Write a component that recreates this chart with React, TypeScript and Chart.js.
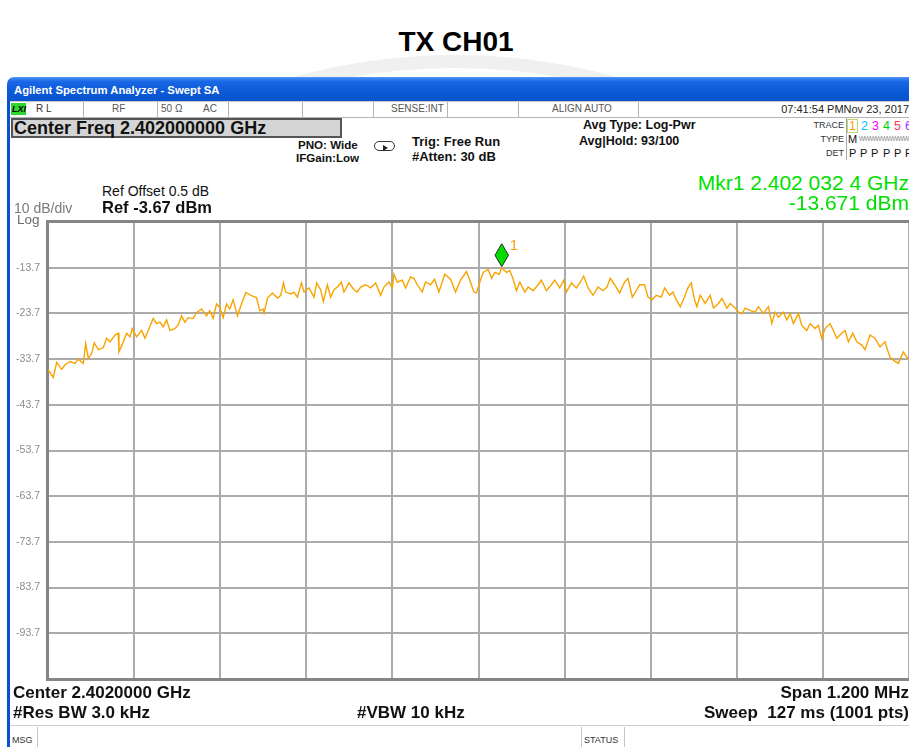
import React, { useEffect, useRef } from "react";
import { Chart, registerables } from "chart.js";

Chart.register(...registerables);

// ---------------- data ----------------
const CHART_TITLE = "TX CH01";
const SPAN_KHZ = 1200; // 2.4014 .. 2.4026 GHz, shown as offset from centre (kHz)
const REF_LEVEL_DBM = -3.67;
const DB_PER_DIV = 10;
const NUM_DIVS = 10;
const Y_TICK_LABELS = ["-13.7", "-23.7", "-33.7", "-43.7", "-53.7", "-63.7", "-73.7", "-83.7", "-93.7"];

const FREQ_OFFSET_KHZ = [
  -600, -592.6, -587.9, -580.9, -576.3, -569.3, -562.4, -557.8, -550.8, -547.5,
  -543.8, -539.1, -535.5, -529.9, -523, -518.3, -513.6, -506.7, -502.1, -501.1,
  -495.1, -490.4, -485.8, -482.6, -476.5, -469.5, -464.9, -460.3, -453.4, -448.6,
  -444, -439.4, -434.7, -430.1, -423.2, -418.6, -413.8, -409.2, -404.6, -397.7,
  -393, -386, -379.1, -374.5, -369.9, -365.1, -360.5, -355.9, -351.2, -346.6,
  -342, -335.9, -330.3, -324.3, -316.4, -309.4, -304.8, -300.3,
  -298.9, -294.1, -287.2, -280.2, -275.6, -271.9, -268.7, -261.7, -257.1, -252.4,
  -246.8, -243.2, -236.2, -229.3, -225.5, -219.9, -216.2, -210.6, -206, -201.4,
  -196.7, -191.1, -187.5, -180.5, -173.6, -168.9, -164.3, -157.3, -150.3, -143.4,
  -136.4, -131.8, -124.9, -120.1, -117.9, -113.2, -106.2, -101.6, -94.7, -90,
  -85.4, -78.4, -73.8, -66.8, -61.2, -55.2, -46.9, -39, -32, -25.1,
  -16.7, -12.1, -6.5,
  -2.8, 1.9, 6.5, 13.5, 18.1, 22.7, 28.8, 32.4, 39, 43.6,
  48.3, 52.9, 57.5, 64.5, 69.2, 76.1, 83.1, 87.7, 94.7, 101.6,
  106.2, 113.2, 118.7, 122.5, 129.5, 136.4, 142, 146.6, 152.7, 159.7,
  166.6, 173.6, 179.1, 183.7, 189.7, 196.7, 203.7, 208.3, 214.4, 220,
  224.6, 231.5, 236.2, 241.8, 247.8, 254.7, 259.3, 266.3, 271, 275.6,
  281.2, 287.1, 291.8, 296.5, 301.1,
  304.4, 309, 316, 322.9, 327.5, 334.5, 339.2, 346.1, 350.8, 357.7,
  362.3, 367, 371.7, 378.6, 385.6, 390.2, 397.1, 404.1, 408.8, 413.4,
  418, 425, 429.7, 434.3, 438.9, 445.9, 450.6, 457.5, 462.1, 469.1,
  473.7, 478.4, 483, 490, 494.6, 499.3, 506.3, 510.9, 515.5, 521.6,
  527.2, 534.2, 538.7, 545.7, 552.6, 559.6, 566.5, 573.5, 579.1, 585.1,
  592, 599,
];

const LEVEL_DBM = [
  -36.0, -37.7, -34.4, -35.9, -34.9, -34.2, -34.6, -33.7, -34.6, -30.3,
  -33.5, -32.4, -30.1, -31.6, -31.2, -29.1, -29.9, -28.4, -28.0, -32.1,
  -29.9, -28.0, -28.8, -27.0, -28.8, -27.4, -29.1, -27.4, -24.8, -25.9,
  -25.6, -26.6, -25.1, -27.4, -27.0, -26.2, -24.2, -25.6, -24.6, -24.8,
  -23.5, -22.7, -24.2, -23.1, -24.8, -21.6, -22.4, -24.6, -21.6, -22.7,
  -20.7, -24.2, -21.6, -19.1, -19.8, -20.2, -23.1, -22.7,
  -23.6, -20.3, -19.2, -20.3, -19.7, -17.0, -19.0, -19.4, -19.0, -20.1,
  -17.0, -19.0, -18.1, -20.1, -17.0, -18.5, -21.1, -17.4, -20.1, -18.5,
  -17.9, -16.8, -19.0, -17.0, -18.5, -19.0, -17.9, -17.4, -18.1, -17.0,
  -19.7, -17.9, -16.8, -18.1, -15.1, -16.8, -16.4, -18.1, -15.7, -16.0,
  -17.4, -19.0, -16.8, -17.4, -16.2, -19.0, -15.1, -16.2, -19.0, -16.4,
  -14.5, -16.4, -19.0,
  -19.2, -16.8, -14.7, -14.0, -16.0, -14.7, -15.1, -13.67, -14.7, -14.3,
  -16.2, -18.7, -16.8, -19.0, -17.9, -18.7, -17.4, -16.4, -18.7, -17.4,
  -16.4, -18.1, -16.4, -19.0, -17.0, -18.1, -16.8, -15.5, -18.1, -19.7,
  -17.9, -18.7, -17.9, -16.0, -17.4, -19.2, -16.8, -16.0, -20.1, -18.7,
  -17.4, -17.4, -20.1, -20.7, -19.7, -20.1, -18.1, -19.7, -19.0, -20.7,
  -22.2, -20.1, -18.1, -17.0, -20.7,
  -22.2, -19.7, -21.5, -19.7, -22.5, -21.5, -20.4, -22.5, -21.5, -22.5,
  -23.4, -23.7, -22.5, -23.0, -23.4, -22.2, -23.7, -22.2, -25.9, -23.4,
  -24.5, -23.4, -25.1, -23.7, -25.9, -23.7, -26.3, -27.4, -25.9, -27.0,
  -26.3, -29.1, -27.0, -25.9, -27.4, -29.1, -28.0, -27.4, -29.9, -28.0,
  -29.9, -30.6, -31.6, -28.4, -29.1, -31.0, -29.9, -33.3, -34.0, -34.6,
  -32.1, -33.7,
];

const MARKER_LABEL = "1";
const MARKER_FREQ_KHZ = 32.4;
const MARKER_LEVEL_DBM = -13.671;

// ---------------- helpers ----------------
const W = 909;
const FONT = '"Liberation Sans", Arial, sans-serif';

type TP = {
  x?: number;
  r?: number;
  y: number;
  size: number;
  bold?: boolean;
  italic?: boolean;
  color?: string;
  ls?: number;
  children: React.ReactNode;
};

function T({ x, r, y, size, bold, italic, color = "#000", ls, children }: TP) {
  const style: React.CSSProperties = {
    position: "absolute",
    top: y - 0.49 * size,
    fontSize: size,
    lineHeight: 1,
    fontWeight: bold ? 700 : 400,
    fontStyle: italic ? "italic" : "normal",
    color,
    whiteSpace: "pre",
    letterSpacing: ls,
    zIndex: 3,
  };
  if (r !== undefined) style.right = W - r;
  else style.left = x;
  return <div style={style}>{children}</div>;
}

function Box(props: { l: number; t: number; w: number; h: number; s?: React.CSSProperties }) {
  return (
    <div
      style={{
        position: "absolute",
        left: props.l,
        top: props.t,
        width: props.w,
        height: props.h,
        boxSizing: "border-box",
        zIndex: 2,
        ...props.s,
      }}
    />
  );
}

const SPECTRUM_PLUGIN = {
  id: "spectrumFrame",
  beforeDatasetsDraw(chart: any) {
    const { ctx, chartArea: a } = chart;
    ctx.save();
    ctx.strokeStyle = "#858585";
    ctx.lineWidth = 3;
    ctx.strokeRect(a.left - 0.5, a.top - 0.5, a.right - a.left + 4, a.bottom - a.top + 1);
    ctx.restore();
  },
  afterDatasetsDraw(chart: any) {
    const { ctx, scales } = chart;
    const mx = scales.x.getPixelForValue(MARKER_FREQ_KHZ);
    const my = scales.y.getPixelForValue(MARKER_LEVEL_DBM) - 1;
    const h = 23;
    const w = 13.5;
    ctx.save();
    ctx.beginPath();
    ctx.moveTo(mx, my);
    ctx.lineTo(mx - w / 2, my - h / 2);
    ctx.lineTo(mx, my - h);
    ctx.lineTo(mx + w / 2, my - h / 2);
    ctx.closePath();
    ctx.fillStyle = "#00dd00";
    ctx.fill();
    ctx.strokeStyle = "#2b2b2b";
    ctx.lineWidth = 1;
    ctx.stroke();
    ctx.fillStyle = "#ffa000";
    ctx.font = `15px ${FONT}`;
    ctx.textBaseline = "alphabetic";
    ctx.fillText(MARKER_LABEL, mx + 8, my - 17);
    ctx.restore();
  },
};

function SpectrumPlot() {
  const ref = useRef<HTMLCanvasElement | null>(null);
  useEffect(() => {
    if (!ref.current) return;
    const yMax = REF_LEVEL_DBM;
    const yMin = REF_LEVEL_DBM - DB_PER_DIV * NUM_DIVS;
    const xMin = -SPAN_KHZ / 2;
    const xMax = SPAN_KHZ / 2;
    const gridColor = "#ababab";
    const chart = new Chart(ref.current, {
      type: "line",
      data: {
        datasets: [
          {
            data: FREQ_OFFSET_KHZ.map((f, i) => ({ x: f, y: LEVEL_DBM[i] })),
            borderColor: "#f8a400",
            borderWidth: 1.4,
            pointRadius: 0,
            tension: 0,
            fill: false,
          },
        ],
      },
      options: {
        responsive: false,
        animation: false,
        devicePixelRatio: 1,
        layout: { padding: { top: 10, bottom: 5, left: 0, right: 0 } },
        plugins: { legend: { display: false }, tooltip: { enabled: false }, title: { display: false } },
        scales: {
          x: {
            type: "linear",
            min: xMin,
            max: xMax,
            afterBuildTicks: (s: any) => {
              s.ticks = Array.from({ length: NUM_DIVS + 1 }, (_, i) => ({ value: xMin + (i * SPAN_KHZ) / NUM_DIVS }));
            },
            afterFit: (s: any) => {
              s.height = 0;
              s.paddingLeft = 0;
              s.paddingRight = 0;
            },
            ticks: { display: false },
            grid: { color: gridColor, lineWidth: 2, drawTicks: false },
            border: { display: false },
          },
          y: {
            type: "linear",
            min: yMin,
            max: yMax,
            afterBuildTicks: (s: any) => {
              s.ticks = Array.from({ length: NUM_DIVS + 1 }, (_, i) => ({ value: yMin + i * DB_PER_DIV }));
            },
            afterFit: (s: any) => {
              s.width = 48;
              s.paddingTop = 0;
              s.paddingBottom = 0;
            },
            ticks: {
              autoSkip: false,
              padding: 8,
              color: "#8c8c8c",
              font: { family: FONT, size: 10.5 },
              callback: (v: any) => {
                const k = Math.round((yMax - Number(v)) / DB_PER_DIV);
                return k >= 1 && k <= Y_TICK_LABELS.length ? Y_TICK_LABELS[k - 1] : "";
              },
            },
            grid: { color: gridColor, lineWidth: 2, drawTicks: false },
            border: { display: false },
          },
        },
      },
      plugins: [SPECTRUM_PLUGIN],
    } as any);
    return () => chart.destroy();
  }, []);
  return (
    <canvas
      ref={ref}
      width={909}
      height={472}
      style={{ position: "absolute", left: 0, top: 212, width: 909, height: 472, zIndex: 2 }}
    />
  );
}

export default function App() {
  const sep = "1px solid #b4b4b4";
  const statusSeps = [83, 157, 228, 302, 373, 447, 518, 638];
  return (
    <div
      style={{
        position: "fixed",
        left: 0,
        top: 0,
        width: W,
        height: 747,
        overflow: "hidden",
        background: "#fff",
        fontFamily: FONT,
      }}
    >
      {/* faint watermark ring, only visible above the window */}
      <div style={{ position: "absolute", left: 0, top: 0, width: W, height: 78, overflow: "hidden", zIndex: 0 }}>
        <div
          style={{
            position: "absolute",
            left: 455 - 600,
            top: 55,
            width: 1200,
            height: 1200,
            borderRadius: "50%",
            border: "13px solid #f0f0f0",
            boxSizing: "border-box",
          }}
        />
      </div>
      <div
        style={{
          position: "absolute",
          left: 256,
          top: 28,
          width: 400,
          textAlign: "center",
          fontSize: 28,
          lineHeight: 1,
          fontWeight: 700,
          color: "#000",
          zIndex: 3,
        }}
      >
        {CHART_TITLE}
      </div>

      {/* window body */}
      <Box l={7} t={100} w={902} h={647} s={{ background: "#fff", zIndex: 1 }} />
      {/* title bar */}
      <Box
        l={7}
        t={77}
        w={910}
        h={24}
        s={{
          background: "linear-gradient(#4f95f8 0%, #1a68e6 18%, #0b5ad8 60%, #0a53cc 100%)",
          borderTopLeftRadius: 7,
        }}
      />
      <T x={14} y={91} size={11.3} bold color="#fff">
        Agilent Spectrum Analyzer - Swept SA
      </T>
      {/* left blue border */}
      <Box l={7} t={100} w={3} h={647} s={{ background: "#0a52cc" }} />

      {/* status row */}
      <Box l={10} t={101} w={899} h={17} s={{ background: "#fff", borderTop: "1px solid #c8c8c8", borderBottom: sep }} />
      {statusSeps.map((x) => (
        <Box key={x} l={x} t={102} w={1} h={15} s={{ background: "#b4b4b4" }} />
      ))}
      <Box l={11} t={103} w={15} h={12} s={{ background: "#2fd62f" }} />
      <T x={12} y={109} size={9} bold italic color="#000">
        LXI
      </T>
      <T x={36} y={109} size={10} color="#333">
        R L
      </T>
      <T x={112} y={109} size={10} color="#555">
        RF
      </T>
      <T x={161} y={109} size={10} color="#555">
        50 Ω
      </T>
      <T x={203} y={109} size={10} color="#555">
        AC
      </T>
      <T x={391} y={109} size={10} color="#555">
        SENSE:INT
      </T>
      <T x={552} y={109} size={10} color="#555">
        ALIGN AUTO
      </T>
      <T r={909} y={109} size={11} color="#222">
        07:41:54 PMNov 23, 2017
      </T>

      {/* centre freq box */}
      <Box l={11} t={118} w={331} h={20} s={{ background: "#d4d4d4", border: "2px solid #555" }} />
      <T x={14} y={128} size={18} bold color="#111">
        Center Freq 2.402000000 GHz
      </T>

      <T x={298} y={145} size={11.6} bold color="#111">
        PNO: Wide
      </T>
      <T x={296} y={158} size={11.6} bold color="#111">
        IFGain:Low
      </T>
      {/* trigger icon */}
      <Box l={374} t={141} w={21} h={10} s={{ border: "1.5px solid #333", borderRadius: 5, background: "#fff" }} />
      <div
        style={{
          position: "absolute",
          left: 383,
          top: 145,
          width: 0,
          height: 0,
          borderTop: "3.5px solid transparent",
          borderBottom: "3.5px solid transparent",
          borderLeft: "5px solid #222",
          zIndex: 3,
        }}
      />
      <T x={412} y={141} size={13} bold color="#111">
        Trig: Free Run
      </T>
      <T x={412} y={156} size={13} bold color="#111">
        #Atten: 30 dB
      </T>
      <T x={583} y={125} size={12.5} bold color="#111">
        Avg Type: Log-Pwr
      </T>
      <T x={579} y={141} size={12.5} bold color="#111">
        Avg|Hold: 93/100
      </T>

      {/* trace block */}
      <Box l={846} t={118} w={70} h={42} s={{ borderLeft: "1px solid #a8a8a8" }} />
      <T r={844} y={125} size={9} color="#333">
        TRACE
      </T>
      <T r={844} y={139} size={9} color="#333">
        TYPE
      </T>
      <T r={844} y={153} size={9} color="#333">
        DET
      </T>
      <Box l={847} t={119} w={11} h={14} s={{ border: "1px solid #b9d86a" }} />
      <T x={849} y={126} size={12.5} color="#ffa000">
        1
      </T>
      <T x={861} y={126} size={12.5} color="#00c4ff">
        2
      </T>
      <T x={872} y={126} size={12.5} color="#ff00ff">
        3
      </T>
      <T x={883} y={126} size={12.5} color="#00d000">
        4
      </T>
      <T x={894} y={126} size={12.5} color="#ff3366">
        5
      </T>
      <T x={905} y={126} size={12.5} color="#9933ff">
        6
      </T>
      <T x={848} y={139} size={11} color="#111">
        M
      </T>
      <T x={859} y={139} size={6.5} color="#888" ls={-0.6}>
        WWWWWWWWWWWW
      </T>
      {[849, 860, 871, 883, 894, 905].map((x) => (
        <T key={x} x={x} y={153} size={11} color="#111">
          P
        </T>
      ))}

      {/* reference info */}
      <T x={102} y={191} size={14} color="#111">
        Ref Offset 0.5 dB
      </T>
      <T x={102} y={207} size={16.5} bold color="#111">
        Ref -3.67 dBm
      </T>
      <T x={14} y={208} size={14} color="#7a7a7a">
        10 dB/div
      </T>
      <T x={17} y={220} size={13.5} color="#6a6a6a">
        Log
      </T>

      {/* marker readout */}
      <T r={909} y={182} size={21} color="#00e000">
        Mkr1 2.402 032 4 GHz
      </T>
      <T r={909} y={202} size={21} color="#00e000">
        -13.671 dBm
      </T>

      <SpectrumPlot />

      {/* bottom annotations */}
      <T x={13} y={692} size={17} bold color="#111">
        Center 2.4020000 GHz
      </T>
      <T x={13} y={712} size={17} bold color="#111">
        #Res BW 3.0 kHz
      </T>
      <T x={357} y={712} size={17} bold color="#111">
        #VBW 10 kHz
      </T>
      <T r={909} y={692} size={17} bold color="#111">
        Span 1.200 MHz
      </T>
      <T r={909} y={712} size={17} bold color="#111">
        {"Sweep  127 ms (1001 pts)"}
      </T>

      {/* message bar */}
      <Box l={10} t={725} w={899} h={1} s={{ background: "#cfcfcf" }} />
      <Box l={37} t={727} w={1} h={20} s={{ background: "#c4c4c4" }} />
      <Box l={581} t={727} w={1} h={20} s={{ background: "#c4c4c4" }} />
      <Box l={624} t={727} w={1} h={20} s={{ background: "#c4c4c4" }} />
      <T x={12} y={740} size={9} color="#333">
        MSG
      </T>
      <T x={584} y={740} size={9} color="#333">
        STATUS
      </T>
    </div>
  );
}
